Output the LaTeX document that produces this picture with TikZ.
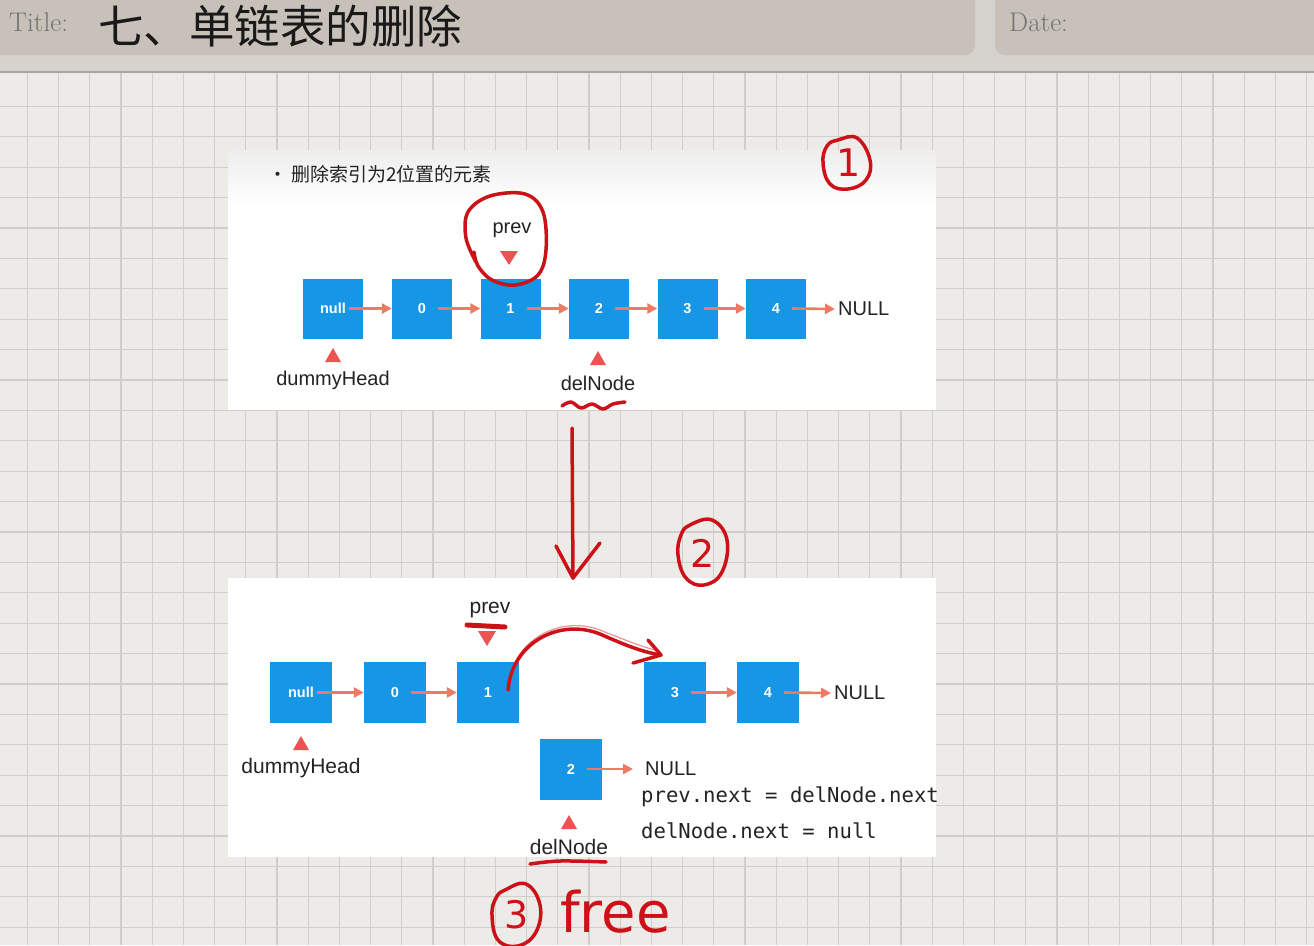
\documentclass[tikz,border=0pt]{standalone}
\usepackage{fontspec}
\setsansfont{Liberation Sans}
\newfontfamily\cjk{Noto Sans CJK SC}
\newfontfamily\monof{DejaVu Sans Mono}
\newfontfamily\handf{DejaVu Sans}
\usetikzlibrary{arrows.meta}
\definecolor{paper}{RGB}{237,235,232}
\definecolor{gridc}{RGB}{208,206,203}
\definecolor{headc}{RGB}{199,193,186}
\definecolor{bandc}{RGB}{214,210,206}
\definecolor{boxblue}{RGB}{22,150,228}
\definecolor{linkc}{RGB}{238,122,100}
\definecolor{ptrred}{RGB}{236,84,84}
\definecolor{ink}{RGB}{204,18,24}
\definecolor{txt}{RGB}{35,35,35}
\tikzset{
  lbox/.style={fill=boxblue, minimum width=60, minimum height=60, inner sep=0, text=white, font=\sffamily\bfseries\fontsize{14.5}{14}\selectfont},
  lbox2/.style={lbox, minimum width=62, minimum height=61},
  link/.style={draw=linkc, line width=2.6, -{Triangle[length=10pt,width=10pt]}},
  lab/.style={text=txt, inner sep=0, font=\sffamily\fontsize{20}{20}\selectfont},
  lab2/.style={lab, font=\sffamily\fontsize{21}{21}\selectfont},
  nulltxt/.style={text=txt, inner sep=0, anchor=west, font=\sffamily\fontsize{20}{20}\selectfont},
  codetxt/.style={text=txt, inner sep=0, anchor=west, font=\monof\fontsize{20.6}{20}\selectfont},
  inkline/.style={draw=ink, line width=3.5, line cap=round, line join=round},
  inknum/.style={text=ink, inner sep=0, font=\handf\fontsize{38}{38}\selectfont},
}
\begin{document}
\begin{tikzpicture}[x=1pt,y=-1pt]
\useasboundingbox (0,0) rectangle (1314,945);
% paper and grid
\fill[paper] (0,0) rectangle (1314,945);
\foreach \k in {-16,...,26} {\draw[gridc, line width=1.1] ({495.4+31.2*\k},72) -- ({495.4+31.2*\k},945);}
\foreach \j in {-10,...,18} {\draw[gridc, line width=1.1] (0,{410.4+30.4*\j}) -- (1314,{410.4+30.4*\j});}
% header
\fill[bandc] (0,0) rectangle (1314,72);
\draw[gray!70, line width=1.5] (0,72) -- (1314,72);
\fill[headc, rounded corners=10] (-20,-20) rectangle (975,55);
\fill[headc, rounded corners=10] (995,-20) rectangle (1340,55);
\node[anchor=west, text=black!55, inner sep=0, font=\fontsize{27}{27}\selectfont] (titlelab) at (9,22) {Title:};
\node[anchor=west, text=black!90, inner sep=0, font=\cjk\fontsize{45.5}{45}\selectfont] (title) at (98,26) {七、单链表的删除};
\node[anchor=west, text=black!55, inner sep=0, font=\fontsize{27}{27}\selectfont] (datelab) at (1009,22) {Date:};
% panels
\fill[white] (228,150) rectangle (936,410);
\shade[top color=black!7, bottom color=white] (228,150) rectangle (936,205);
\fill[white] (228,578) rectangle (936,857);
% panel 1
\node[anchor=west, text=txt, inner sep=0, font=\cjk\fontsize{19}{19}\selectfont] (head1) at (268,174) {• 删除索引为2位置的元素};
\node[lbox] (a0) at (333,308.5) {null};
\node[lbox] (a1) at (422,308.5) {0};
\node[lbox] (a2) at (510.5,308.5) {1};
\node[lbox] (a3) at (599,308.5) {2};
\node[lbox] (a4) at (687.5,308.5) {3};
\node[lbox] (a5) at (776,308.5) {4};
\node[nulltxt] (anull) at (838,309) {NULL};
\foreach \p/\q in {a0/a1,a1/a2,a2/a3,a3/a4,a4/a5} {\draw[link] ([xshift=16]\p.center) -- (\q.west);}
\draw[link] ([xshift=16]a5.center) -- ([xshift=-3]anull.west);
\node[lab] (aprev) at (512,230) {prev};
\fill[ptrred] (500,251) -- (518,251) -- (509,265) -- cycle;
\fill[ptrred] (325,362) -- (341,362) -- (333,348) -- cycle;
\node[lab] (adummy) at (333,380) {dummyHead};
\fill[ptrred] (590,365) -- (606,365) -- (598,351) -- cycle;
\node[lab] (adel) at (598,383) {delNode};
% panel 2
\node[lbox2] (b0) at (301,692.5) {null};
\node[lbox2] (b1) at (395,692.5) {0};
\node[lbox2] (b2) at (488,692.5) {1};
\node[lbox2] (b4) at (675,692.5) {3};
\node[lbox2] (b5) at (768,692.5) {4};
\node[nulltxt] (bnull) at (834,693) {NULL};
\draw[link] ([xshift=16]b0.center) -- (b1.west);
\draw[link] ([xshift=16]b1.center) -- (b2.west);
\draw[link] ([xshift=16]b4.center) -- (b5.west);
\draw[link] ([xshift=16]b5.center) -- ([xshift=-3]bnull.west);
\node[lbox2] (b3) at (571,769) {2};
\node[nulltxt] (dnull) at (645,769) {NULL};
\draw[link] ([xshift=16]b3.center) -- ([xshift=-12]dnull.west);
\node[lab2] (bprev) at (490,610) {prev};
\fill[ptrred] (478,631) -- (496,631) -- (487,646) -- cycle;
\fill[ptrred] (293,750) -- (309,750) -- (301,736) -- cycle;
\node[lab2] (bdummy) at (301,768) {dummyHead};
\fill[ptrred] (561,829) -- (577,829) -- (569,815) -- cycle;
\node[lab2] (bdel) at (569,847) {delNode};
\begin{scope}
\clip (228,578) rectangle (938,857);
\node[codetxt] (code1) at (641,797) {prev.next = delNode.next};
\node[codetxt] (code2) at (641,831) {delNode.next = null};
\end{scope}
% handwritten annotations
\draw[inkline] plot[smooth, tension=0.6] coordinates {(476,262) (466,238) (468,212) (490,196) (525,194) (543,212) (546,250) (538,275) (515,285) (492,280) (478,266) (474,252)};
\draw[inkline] plot[smooth cycle, tension=0.7] coordinates {(838,140) (857,138) (870,160) (866,180) (848,189) (830,184) (823,163) (827,146)};
\node[inknum] (n1) at (849,163) {1};
\draw[inkline] plot[smooth, tension=0.6] coordinates {(562,406) (571,402) (581,408) (592,404) (603,409) (613,404) (625,402)};
\coordinate (dtop) at (572,428);
\coordinate (dbot) at (573,578);
\draw[inkline] (dtop) -- (dbot);
\draw[inkline] (556,546) -- (dbot) -- (600,543);
\draw[inkline] plot[smooth cycle, tension=0.7] coordinates {(690,525) (712,520) (727,540) (722,572) (704,585) (686,578) (678,555) (681,535)};
\node[inknum] (n2) at (703,553) {2};
\draw[inkline, line width=5] (467,625) -- (505,627);
\coordinate (cstart) at (508,690);
\coordinate (cend) at (661,655);
\draw[ink!45, line width=1.2] (510,680) .. controls (515,640) and (560,615) .. (600,630) .. controls (625,640) and (640,646) .. (655,650);
\draw[inkline] (cstart) .. controls (512,642) and (560,618) .. (600,634) .. controls (625,645) and (642,652) .. (cend);
\draw[inkline] (648,640) -- (cend) -- (633,663);
\draw[inkline] plot[smooth, tension=0.6] coordinates {(530,864) (560,861) (606,862)};
\draw[inkline] plot[smooth cycle, tension=0.7] coordinates {(505,890) (526,884) (540,905) (536,932) (518,946) (498,940) (492,915) (496,898)};
\node[inknum] (n3) at (517,915) {3};
\node[anchor=west, text=ink, inner sep=0, font=\handf\fontsize{56}{56}\selectfont] (free) at (560,912) {free};
\end{tikzpicture}
\end{document}
